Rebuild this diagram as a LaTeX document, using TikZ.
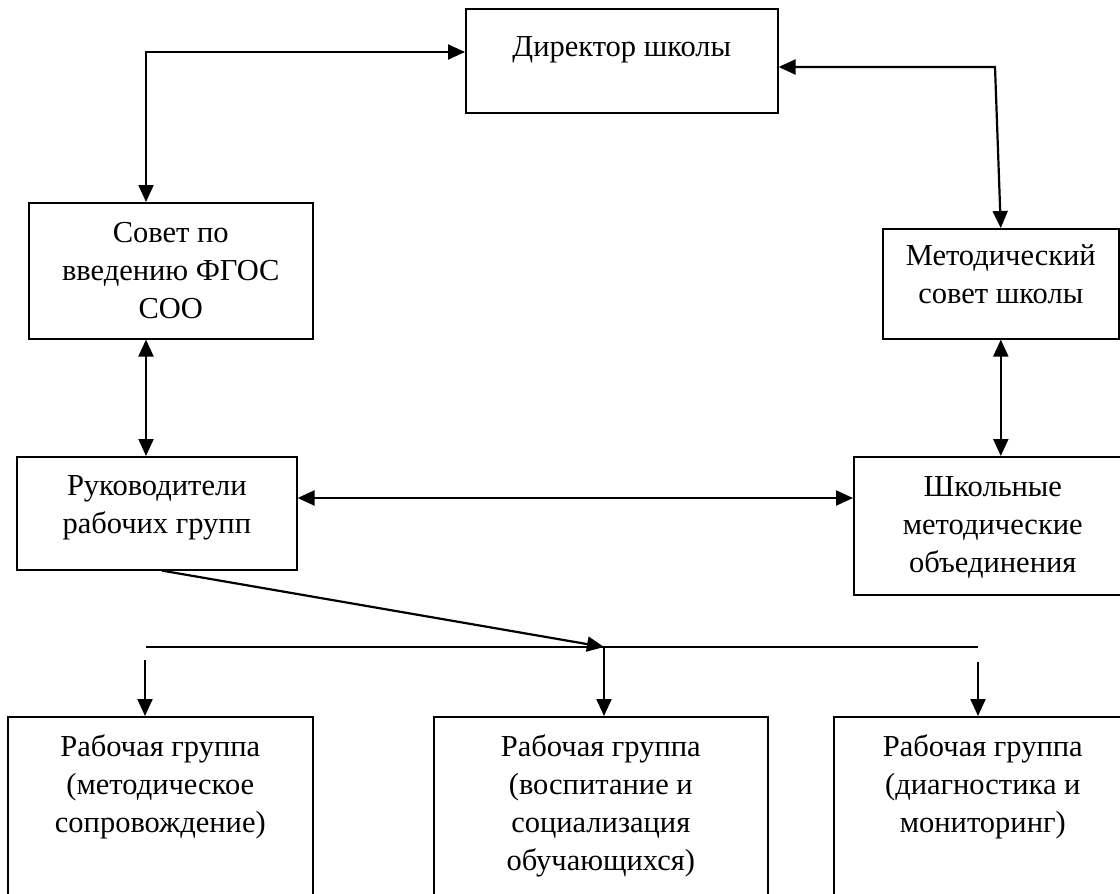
\documentclass[tikz,border=0pt]{standalone}
\usepackage{fontspec}
\setmainfont{Liberation Serif}
\usetikzlibrary{arrows.meta}
\begin{document}
\begin{tikzpicture}[x=1pt,y=-1pt,
  >={Triangle[length=17pt,width=15pt]},
  box/.style={draw=black,line width=1.6pt,inner sep=0pt,anchor=north west},
  txt/.style={align=center,inner sep=0pt,anchor=north,font=\fontsize{30.5}{38}\selectfont},
  conn/.style={line width=2.2pt,black},
  thin/.style={line width=1.6pt,black}]
\useasboundingbox (0,0) rectangle (1120,894);
\clip (0,0) rectangle (1120,894);
% boxes
\node[box,minimum width=312pt,minimum height=104pt] (dir) at (465,8) {};
\node[box,minimum width=284pt,minimum height=136pt] (sov) at (28,202) {};
\node[box,minimum width=236pt,minimum height=110pt] (met) at (882,228) {};
\node[box,minimum width=280pt,minimum height=113pt] (ruk) at (16,456) {};
\node[box,minimum width=278pt,minimum height=138pt] (shk) at (853,456) {};
\node[box,minimum width=305pt,minimum height=200pt] (g1) at (7,716) {};
\node[box,minimum width=334pt,minimum height=200pt] (g2) at (433,716) {};
\node[box,minimum width=298pt,minimum height=200pt] (g3) at (833,716) {};
% texts
\node[txt] (dirt) at ([yshift=-28pt]dir.north) {Директор школы};
\node[txt] (sovt) at ([yshift=-20pt]sov.north) {Совет по\\введению ФГОС\\СОО};
\node[txt] (mett) at ([yshift=-16pt]met.north) {Методический\\совет школы};
\node[txt] (rukt) at ([yshift=-19pt]ruk.north) {Руководители\\рабочих групп};
\node[txt] (shkt) at ([yshift=-20pt]shk.north) {Школьные\\методические\\объединения};
\node[txt] (g1t) at ([yshift=-18pt]g1.north) {Рабочая группа\\(методическое\\сопровождение)};
\node[txt] (g2t) at ([yshift=-18pt]g2.north) {Рабочая группа\\(воспитание и\\социализация\\обучающихся)};
\node[txt] (g3t) at ([yshift=-18pt]g3.north) {Рабочая группа\\(диагностика и\\мониторинг)};
% helper coordinates
\coordinate (c1) at (146,52);
\coordinate (c2) at (995,67);
\coordinate (xL) at (146,0);
\coordinate (yh) at (0,498);
\coordinate (xs) at (162,0);
\coordinate (j) at (604,647);
\coordinate (hl) at (146,647);
\coordinate (hr) at (978,647);
\coordinate (a1) at (145,660);
\coordinate (a3) at (978,662);
% connectors
\draw[conn,<->] (sov.north -| c1) -- (c1) -- (dir.west |- c1);
\draw[conn,<->] (dir.east |- c2) -- (c2) -- (met.north);
\draw[conn,<->] (sov.south -| xL) -- (ruk.north -| xL);
\draw[conn,<->] (met.south) -- (shk.north -| met.south);
\draw[conn,<->] (ruk.east |- yh) -- (shk.west |- yh);
\draw[conn,->] (ruk.south -| xs) -- (j);
\draw[thin] (hl) -- (hr);
\draw[conn,->] (a1) -- (g1.north -| a1);
\draw[conn,->] (j) -- (g2.north -| j);
\draw[conn,->] (a3) -- (g3.north -| a3);
\end{tikzpicture}
\end{document}
